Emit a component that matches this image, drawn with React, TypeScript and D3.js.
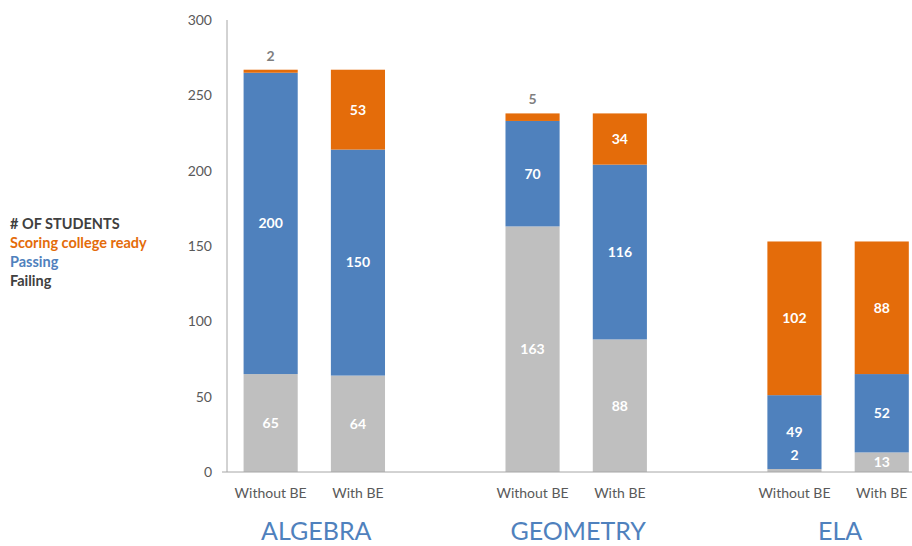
import React from "react";
import * as d3 from "d3";

const subjects = ["ALGEBRA", "GEOMETRY", "ELA"];
const conditions = ["Without BE", "With BE"];
const failing = [65, 64, 163, 88, 2, 13];
const passing = [200, 150, 70, 116, 49, 52];
const collegeReady = [2, 53, 5, 34, 102, 88];
const yTicks = [0, 50, 100, 150, 200, 250, 300];
const legendLines = ["# OF STUDENTS", "Scoring college ready", "Passing", "Failing"];

const W = 912;
const H = 546;
const FONT = "Lato, 'Open Sans', sans-serif";
const COLORS = { failing: "#bfbfbf", passing: "#4f81bd", college: "#e46c0a" };
const legendColors = ["#404040", "#e46c0a", "#4f81bd", "#404040"];

export default function App() {
  // slots: each subject has two bars and one empty spacer slot
  const slots: string[] = [];
  subjects.forEach((s, i) => {
    conditions.forEach((c) => slots.push(`${s}|${c}`));
    slots.push(`gap${i}`);
  });
  const x0 = 227;
  const slotW = 87.3;
  const x = d3
    .scaleBand<string>()
    .domain(slots)
    .range([x0, x0 + slotW * slots.length])
    .paddingInner(0.38)
    .paddingOuter(0.19);
  const y = d3.scaleLinear().domain([0, 300]).range([472, 20]);

  const bars = subjects.flatMap((s, si) =>
    conditions.map((c, ci) => {
      const i = si * 2 + ci;
      return { key: `${s}|${c}`, cond: c, vals: [failing[i], passing[i], collegeReady[i]] };
    })
  );
  const segColors = [COLORS.failing, COLORS.passing, COLORS.college];

  return (
    <svg width={W} height={H} style={{ position: "absolute", left: 0, top: 0, background: "#fff" }}>
      {/* legend-like text */}
      {legendLines.map((t, i) => (
        <text key={t} x={10} y={224 + i * 19} dy="0.35em" fontFamily={FONT} fontWeight={700} fontSize={14.5} fill={legendColors[i]}>
          {t}
        </text>
      ))}
      {/* y tick labels */}
      {yTicks.map((t) => (
        <text key={t} x={212} y={y(t)} dy="0.35em" textAnchor="end" fontFamily={FONT} fontSize={14} fill="#595959">
          {t}
        </text>
      ))}
      {/* bars */}
      {bars.map((b) => {
        let acc = 0;
        const bx = x(b.key)!;
        const bw = x.bandwidth();
        const total = d3.sum(b.vals);
        return (
          <g key={b.key}>
            {b.vals.map((v, k) => {
              const start = acc;
              acc += v;
              return (
                <rect key={k} x={bx} y={y(acc)} width={bw} height={y(start) - y(acc)} fill={segColors[k]} />
              );
            })}
            {(() => {
              let a = 0;
              return b.vals.map((v, k) => {
                const start = a;
                a += v;
                const small = v < 6;
                const ly = small ? y(a) - 14 : (y(start) + y(a)) / 2;
                const inside = small ? a < total : true;
                return (
                  <text key={`l${k}`} x={bx + bw / 2} y={ly} dy="0.35em" textAnchor="middle" fontFamily={FONT} fontWeight={700} fontSize={14} fill={inside ? "#ffffff" : "#7f7f7f"}>
                    {v}
                  </text>
                );
              });
            })()}
            <text x={bx + bw / 2} y={493} dy="0.35em" textAnchor="middle" fontFamily={FONT} fontSize={14} fill="#595959">
              {b.cond}
            </text>
          </g>
        );
      })}
      {/* axes */}
      <line x1={x0} x2={x0} y1={y(300)} y2={y(0)} stroke="#a6a6a6" strokeWidth={1} />
      <line x1={x0 - 5} x2={W} y1={y(0)} y2={y(0)} stroke="#a6a6a6" strokeWidth={1} />
      {/* subject labels */}
      {subjects.map((s) => {
        const a = x(`${s}|${conditions[0]}`)!;
        const b = x(`${s}|${conditions[1]}`)! + x.bandwidth();
        return (
          <text key={s} x={(a + b) / 2 + 2} y={531} dy="0.35em" textAnchor="middle" fontFamily={FONT} fontSize={25} fill="#4f81bd">
            {s}
          </text>
        );
      })}
    </svg>
  );
}
